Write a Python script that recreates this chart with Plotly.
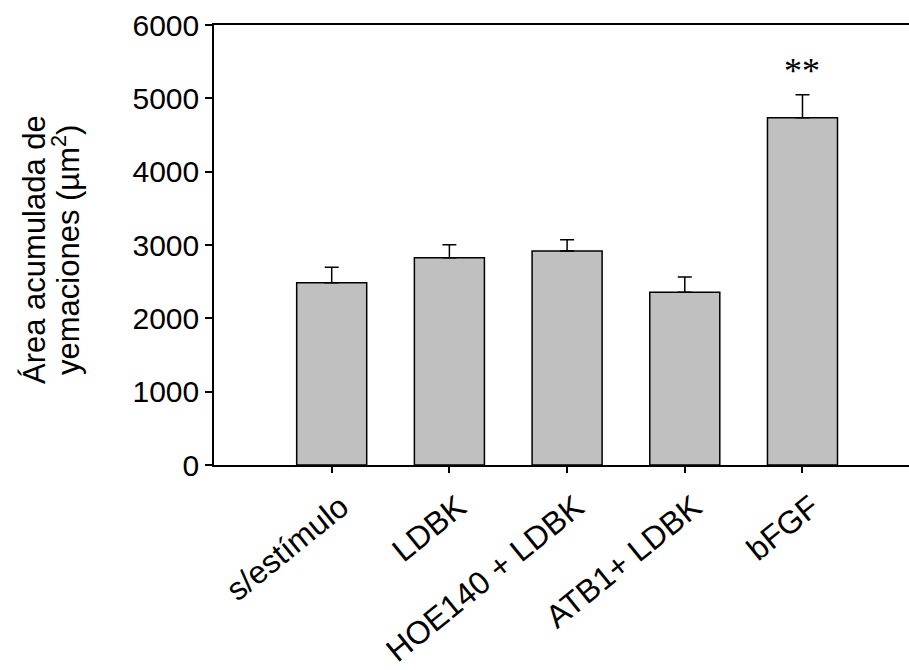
import plotly.graph_objects as go

categories = ["s/estímulo", "LDBK", "HOE140 + LDBK", "ATB1+ LDBK", "bFGF"]
means = [2485, 2825, 2918, 2355, 4736]
sem = [210, 180, 152, 210, 314]
significance = ["", "", "", "", "**"]
y_ticks = [0, 1000, 2000, 3000, 4000, 5000, 6000]
y_title_lines = ["Área acumulada de", "yemaciones (µm<sup>2</sup>)"]

xpos = list(range(len(categories)))

fig = go.Figure()
fig.add_trace(go.Bar(
    x=xpos, y=means,
    width=0.595,
    marker=dict(color="#c0c0c0", line=dict(color="#000000", width=1.5)),
    error_y=dict(type="data", symmetric=False, array=sem, arrayminus=[0]*len(sem),
                 color="#000000", thickness=1.5, width=7),
    showlegend=False,
))

for xi, m, e, s in zip(xpos, means, sem, significance):
    if s:
        fig.add_annotation(x=xi, y=m + e, text=s, showarrow=False,
                           yanchor="bottom", yshift=2,
                           font=dict(family="Liberation Serif", size=36, color="#000"))

for px, line in zip([34, 66], y_title_lines):
    fig.add_annotation(xref="paper", yref="paper", x=(px - 214) / 695, y=0.4886,
                       text=line, textangle=-90, showarrow=False,
                       xanchor="center", yanchor="middle",
                       font=dict(family="Liberation Sans", size=31, color="#000"))

fig.update_layout(
    width=909, height=670,
    margin=dict(l=214, r=0, t=25, b=205),
    paper_bgcolor="white", plot_bgcolor="white",
    font=dict(family="Liberation Sans", color="#000"),
    xaxis=dict(range=[-1, 4.905], tickmode="array", tickvals=xpos, ticktext=categories,
               tickangle=-39, showline=True, linecolor="#000", linewidth=1.5, mirror=True,
               ticks="outside", ticklen=6, tickcolor="#000", tickwidth=1.5,
               ticklabelshift=9, ticklabelstandoff=3,
               showgrid=False, zeroline=False, tickfont=dict(size=32)),
    yaxis=dict(range=[0, 6000], tickvals=y_ticks, showline=True, linecolor="#000",
               linewidth=1.5, ticks="outside", ticklen=7, tickcolor="#000", tickwidth=1.5,
               showgrid=False, zeroline=False, tickfont=dict(size=30)),
)

fig.write_html("out.html")
